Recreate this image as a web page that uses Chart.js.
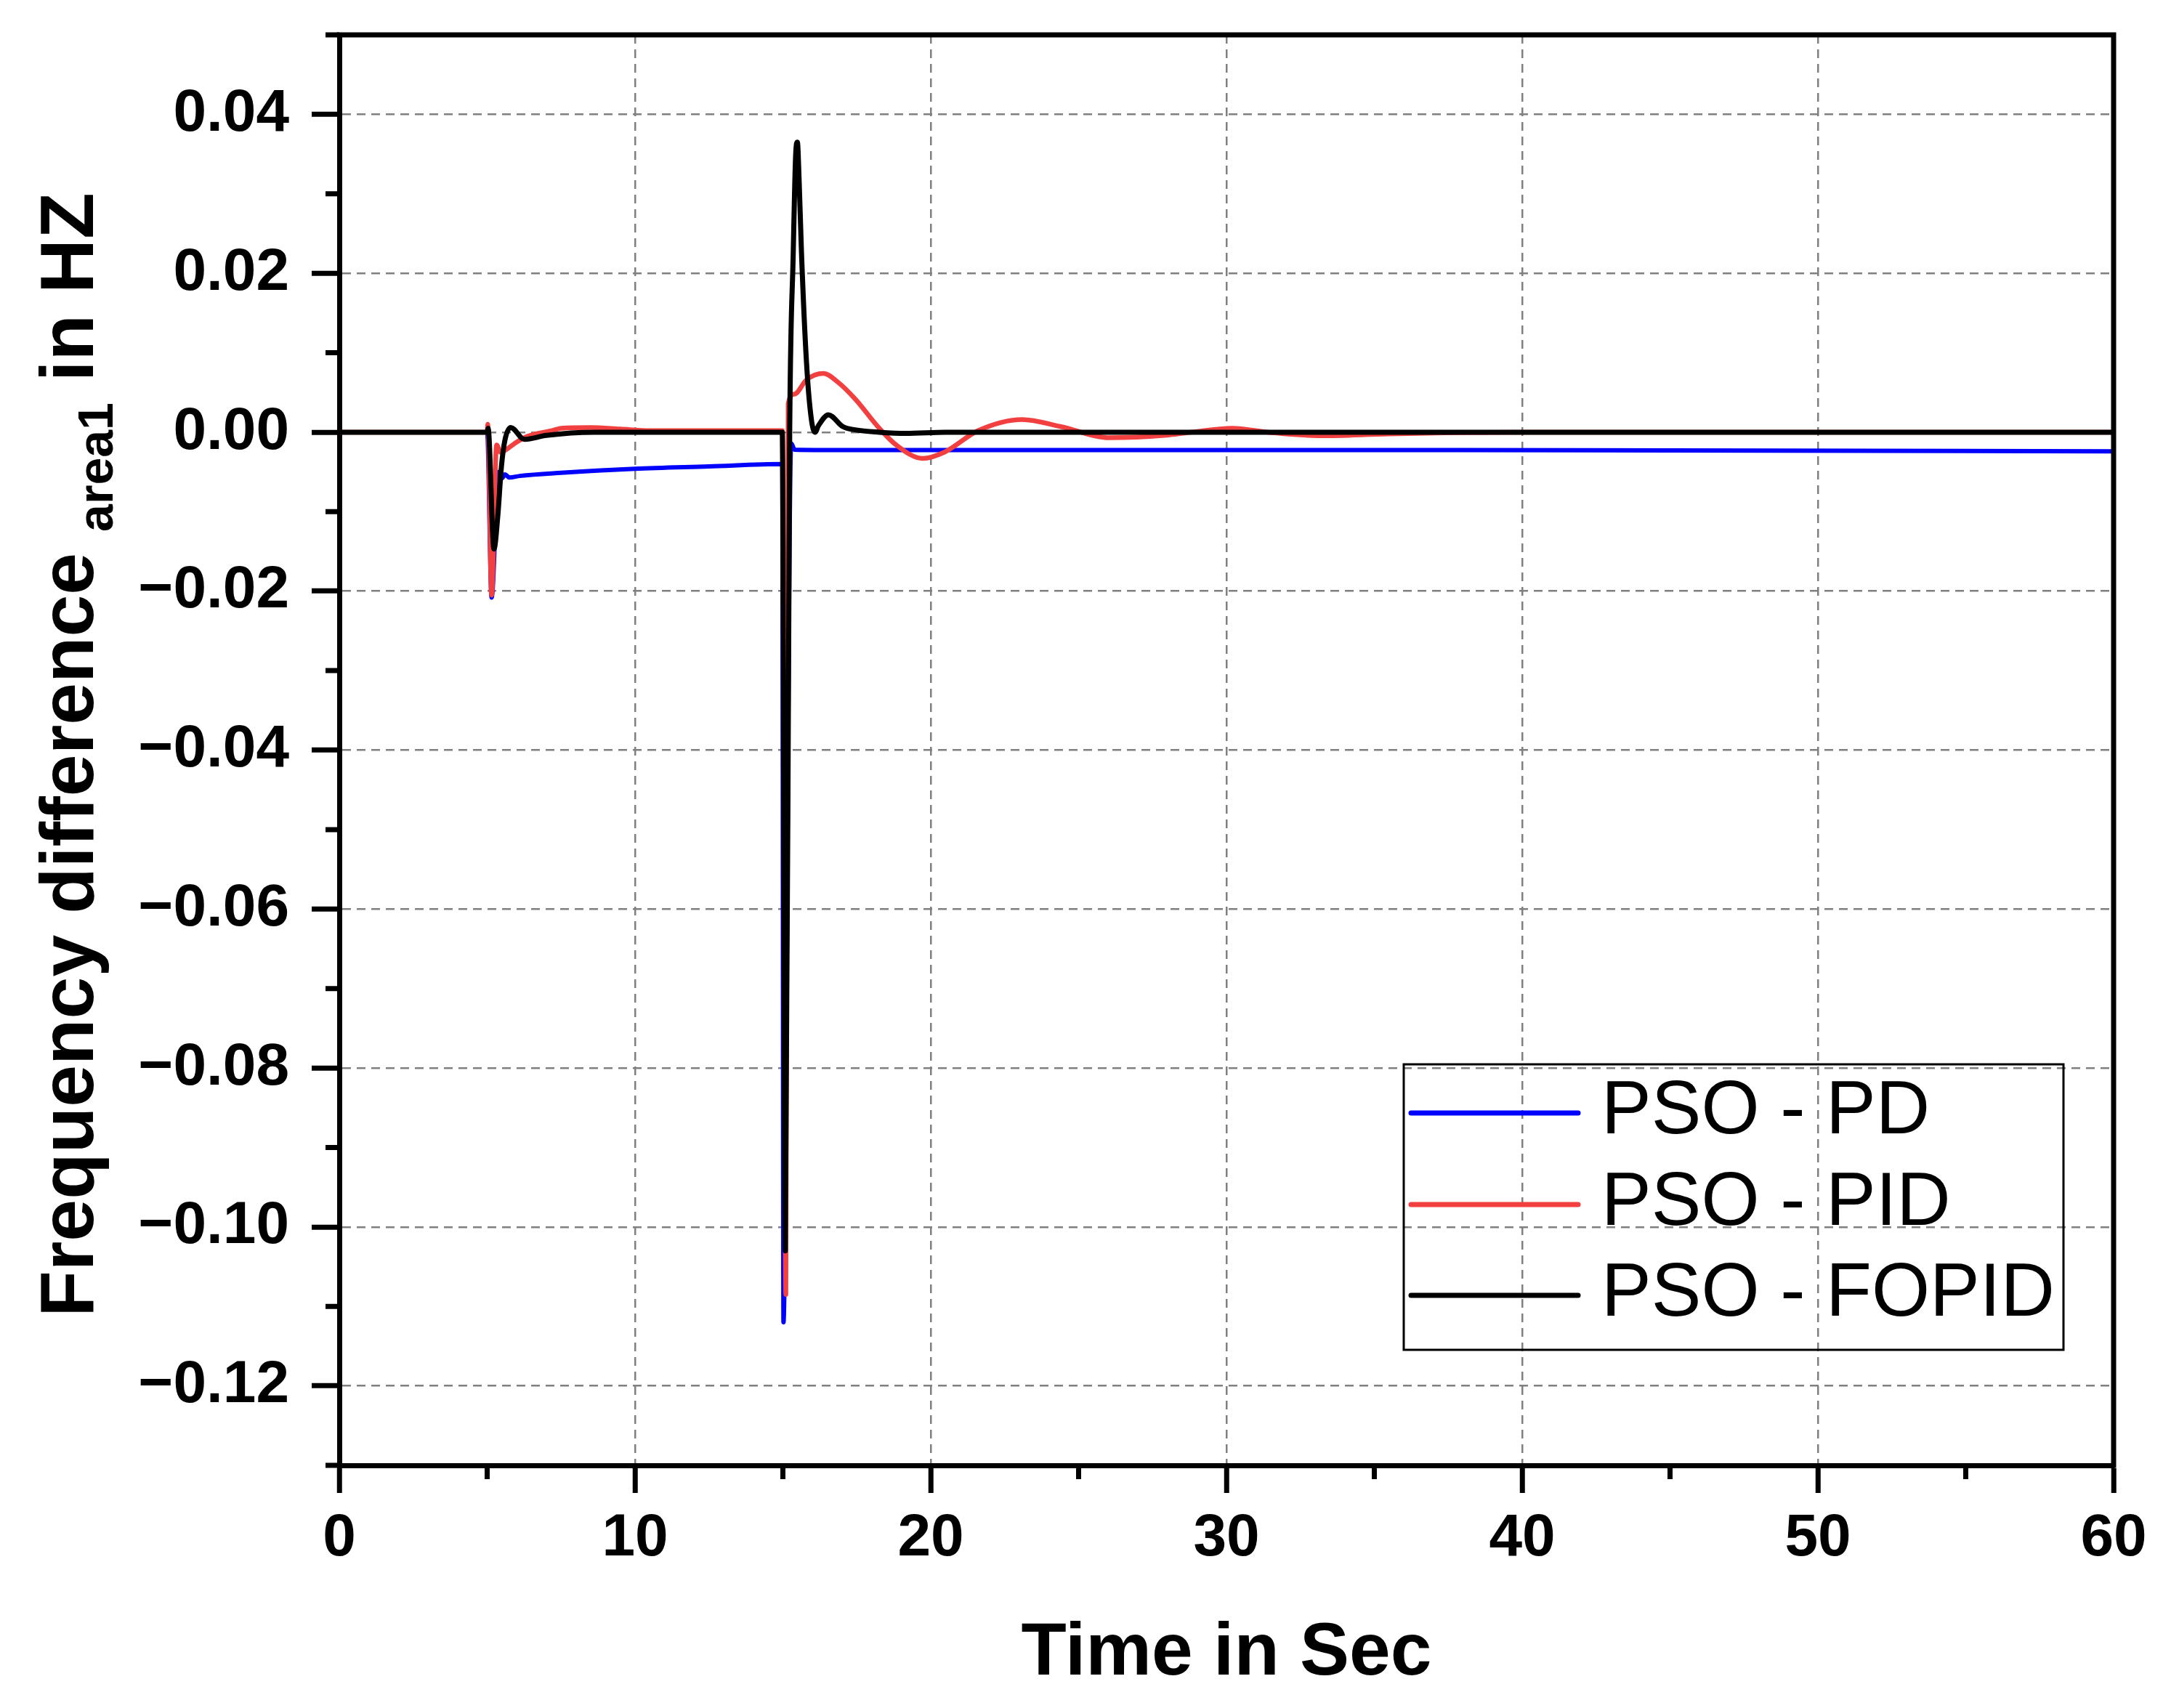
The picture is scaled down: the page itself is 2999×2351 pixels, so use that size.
<!DOCTYPE html>
<html>
<head>
<meta charset="utf-8">
<script src="https://cdn.jsdelivr.net/npm/chart.js@4.4.1/dist/chart.umd.min.js"></script>
<style>
  html, body { margin: 0; padding: 0; background: #fff; }
  #myChart { display: block; width: 2999px; height: 2351px; }
</style>
</head>
<body>
<canvas id="myChart" width="2999" height="2351"></canvas>
<script>
// values
const tPD   = [0, 5.0, 5.15, 5.38, 5.5, 5.6, 5.75, 6.1, 7.5, 10, 12.5, 14.98, 15.02, 15.28, 15.4, 17, 38, 45, 60];
const vPD   = [0, 0, -0.0208, -0.005, -0.0058, -0.0053, -0.0057, -0.0055, -0.0051, -0.0046, -0.0043, -0.0040, -0.112, -0.0014, -0.0022, -0.00225, -0.00225, -0.0023, -0.0024];

const tPID  = [0, 5.0, 5.02, 5.15, 5.32, 5.45, 5.64, 5.97, 6.38, 7.2, 7.5, 8.5, 9.5, 10.5, 12, 14.98, 15.1, 15.18, 15.39, 15.8, 16.37, 16.86, 17.44, 18.26, 18.83, 19.73, 20.47, 21.6, 23.09, 24.4, 26.05, 27.9, 28.8, 30.2, 31.4, 33.2, 35.5, 40, 60];
const vPID  = [0, 0, 0.001, -0.0205, -0.0016, -0.0025, -0.0022, -0.0013, -0.0005, 0.0002, 0.0005, 0.0006, 0.0004, 0.0002, 0.0002, 0.0002, -0.1085, 0.0036, 0.0048, 0.0066, 0.0074, 0.0063, 0.0042, 0.0005, -0.0016, -0.0033, -0.0025, 0.0002, 0.0016, 0.0007, -0.0007, -0.0004, 0, 0.0005, 0, -0.00045, -0.0002, 0, 0];

const tFOPID = [0, 5.0, 5.03, 5.23, 5.36, 5.48, 5.6, 5.8, 6.26, 7.0, 8.6, 14.98, 15.08, 15.23, 15.35, 15.43, 15.49, 15.55, 15.63, 15.8, 15.96, 16.09, 16.2, 16.54, 17.03, 17.44, 18.26, 19.16, 20.5, 60];
const vFOPID = [0, 0, 0.0005, -0.0147, -0.0105, -0.0044, -0.001, 0.0006, -0.0009, -0.0004, 0, 0, -0.103, 0, 0.0225, 0.0347, 0.0365, 0.0316, 0.0225, 0.0087, 0.0017, 0, 0.0008, 0.0022, 0.0007, 0.0003, 0, -0.00015, 0, 0];

const seriesNames = ['PSO - PD', 'PSO - PID', 'PSO - FOPID'];

const xTicks = [0, 10, 20, 30, 40, 50, 60];
const xMinor = [5, 15, 25, 35, 45, 55];
const yTicks = [-0.12, -0.10, -0.08, -0.06, -0.04, -0.02, 0, 0.02, 0.04];
const yMinor = [-0.13, -0.11, -0.09, -0.07, -0.05, -0.03, -0.01, 0.01, 0.03, 0.05];

function pts(t, v) {
  return t.map((x, i) => ({x: x, y: v[i]}));
}

function fmtY(v) {
  if (Math.abs(v) < 1e-9) return '0.00';
  return (v < 0 ? '\u2212' : '') + Math.abs(v).toFixed(2);
}

// minor ticks, top/right frame lines
const framePlugin = {
  id: 'frame',
  afterDatasetsDraw(chart) {
    const c = chart.ctx, a = chart.chartArea;
    const xs = chart.scales.x, ys = chart.scales.y;
    c.save();
    c.strokeStyle = '#000';
    c.lineWidth = 7;
    c.lineCap = 'butt';
    c.beginPath();
    c.moveTo(a.left - 3.5, a.top);
    c.lineTo(a.right, a.top);
    c.lineTo(a.right, a.bottom + 3.5);
    c.stroke();
    c.beginPath();
    xMinor.forEach(v => {
      const px = xs.getPixelForValue(v);
      c.moveTo(px, a.bottom);
      c.lineTo(px, a.bottom + 19);
    });
    yMinor.forEach(v => {
      const py = ys.getPixelForValue(v);
      c.moveTo(a.left, py);
      c.lineTo(a.left - 19, py);
    });
    c.stroke();
    c.restore();
  }
};

// y title with subscript, legend box in the lower right
const textPlugin = {
  id: 'texts',
  afterDraw(chart) {
    const c = chart.ctx;
    c.save();
    // y axis title
    const big = 'bold 104px "Liberation Sans", Arial, sans-serif';
    const small = 'bold 68px "Liberation Sans", Arial, sans-serif';
    const p1 = 'Frequency difference ', p2 = 'area1', p3 = ' in HZ';
    c.font = big;
    const w1 = c.measureText(p1).width, w3 = c.measureText(p3).width;
    c.font = small;
    const w2 = c.measureText(p2).width;
    const total = w1 + w2 + w3;
    c.translate(128, 1039);
    c.rotate(-Math.PI / 2);
    c.fillStyle = '#000';
    c.textBaseline = 'alphabetic';
    c.textAlign = 'left';
    const x0 = -total / 2;
    c.font = big;
    c.fillText(p1, x0, 0);
    c.font = small;
    c.fillText(p2, x0 + w1, 27);
    c.font = big;
    c.fillText(p3, x0 + w1 + w2, 0);
    c.restore();

    // legend
    c.save();
    c.strokeStyle = '#000';
    c.lineWidth = 3;
    c.strokeRect(1932, 1465, 908, 393);
    const rows = [1532, 1658, 1783];
    chart.data.datasets.forEach((ds, i) => {
      c.strokeStyle = ds.borderColor;
      c.lineWidth = 7;
      c.lineCap = 'round';
      c.beginPath();
      c.moveTo(1942, rows[i]);
      c.lineTo(2172, rows[i]);
      c.stroke();
      c.fillStyle = '#000';
      c.font = '103px "Liberation Sans", Arial, sans-serif';
      c.textBaseline = 'middle';
      c.textAlign = 'left';
      c.fillText(ds.label, 2204, rows[i]);
    });
    c.restore();
  }
};

const ctx = document.getElementById('myChart').getContext('2d');

const myChart = new Chart(ctx, {
  type: 'line',
  data: {
    datasets: [{
      label: seriesNames[0],
      data: pts(tPD, vPD),
      borderColor: '#0000ff',
      borderWidth: 6,
      order: 2
    }, {
      label: seriesNames[1],
      data: pts(tPID, vPID),
      borderColor: '#f24040',
      borderWidth: 6.5,
      order: 1
    }, {
      label: seriesNames[2],
      data: pts(tFOPID, vFOPID),
      borderColor: '#000000',
      borderWidth: 7,
      order: 0
    }]
  },
  options: {
    responsive: false,
    devicePixelRatio: 1,
    animation: false,
    layout: { padding: { left: 0, right: 90, top: 48, bottom: 0 } },
    elements: {
      point: { radius: 0 },
      line: { cubicInterpolationMode: 'monotone', borderJoinStyle: 'round', borderCapStyle: 'round', fill: false }
    },
    plugins: {
      legend: { display: false },
      tooltip: { enabled: false }
    },
    scales: {
      x: {
        type: 'linear',
        min: 0,
        max: 60,
        afterBuildTicks: s => { s.ticks = xTicks.map(v => ({value: v})); },
        afterFit: s => { s.height = 334; s.paddingLeft = 0; s.paddingRight = 0; },
        ticks: {
          autoSkip: false,
          maxRotation: 0,
          padding: 14,
          color: '#000',
          font: { family: '"Liberation Sans", Arial, sans-serif', size: 82, weight: 'bold' },
          callback: v => String(v)
        },
        grid: {
          color: '#808080',
          lineWidth: 2.5,
          tickLength: 38,
          tickWidth: 7,
          tickColor: '#000',
          tickBorderDash: []
        },
        border: { display: true, color: '#000', width: 7, dash: [12, 8] },
        title: {
          display: true,
          text: 'Time in Sec',
          color: '#000',
          font: { family: '"Liberation Sans", Arial, sans-serif', size: 102, weight: 'bold' },
          padding: { top: 0, bottom: 13 }
        }
      },
      y: {
        type: 'linear',
        min: -0.13,
        max: 0.05,
        afterBuildTicks: s => { s.ticks = yTicks.map(v => ({value: v})); },
        afterFit: s => { s.width = 467; s.paddingTop = 0; s.paddingBottom = 0; },
        ticks: {
          autoSkip: false,
          padding: 31,
          color: '#000',
          font: { family: '"Liberation Sans", Arial, sans-serif', size: 82, weight: 'bold' },
          callback: v => fmtY(v)
        },
        grid: {
          color: '#808080',
          lineWidth: 2.5,
          tickLength: 38,
          tickWidth: 7,
          tickColor: '#000',
          tickBorderDash: []
        },
        border: { display: true, color: '#000', width: 7, dash: [12, 8] }
      }
    }
  },
  plugins: [framePlugin, textPlugin]
});
</script>
</body>
</html>
